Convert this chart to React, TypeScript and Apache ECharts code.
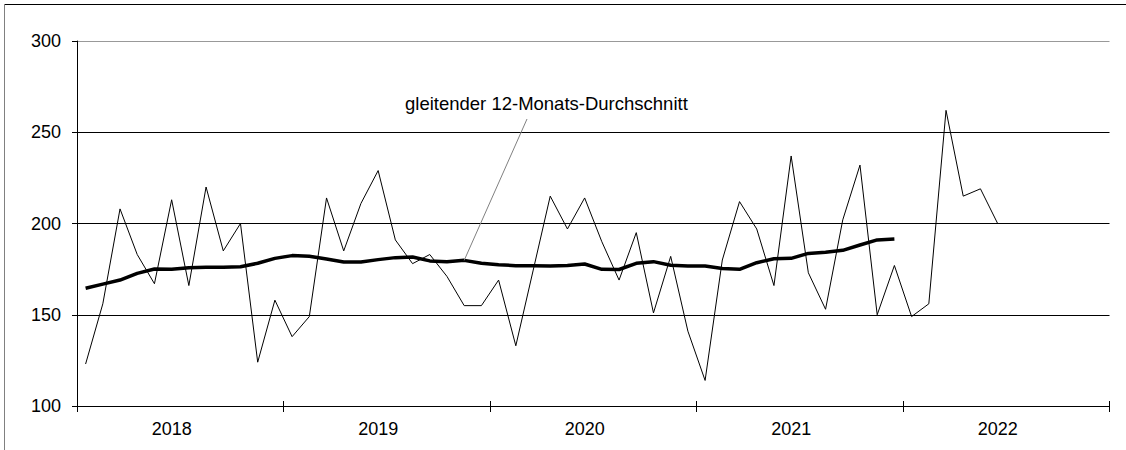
import React, { useEffect, useRef } from "react";
import * as echarts from "echarts";

const years = ["2018", "2019", "2020", "2021", "2022"];
const months = ["01", "02", "03", "04", "05", "06", "07", "08", "09", "10", "11", "12"];

// monthly values (Jan 2018 - Jun 2022)
const monthlyValues = [
  123, 156, 208, 183, 167, 213, 166, 220, 185, 200, 124, 158,
  138, 149, 214, 185, 211, 229, 191, 178, 183, 171, 155, 155,
  169, 133, 174, 215, 197, 214, 190, 169, 195, 151, 182, 141,
  114, 180, 212, 197, 166, 237, 173, 153, 202, 232, 150, 177,
  149, 156, 262, 215, 219, 200,
];

// moving 12-month average (Jan 2018 - Dec 2021)
const movingAverage = [
  164.5, 166.8, 169, 172.7, 175.1, 174.9, 175.8, 176, 176, 176.3, 178.2, 180.9,
  182.4, 182, 180.5, 178.9, 178.9, 180.2, 181.3, 181.6, 179.5, 179.1, 179.8, 178.2,
  177.4, 176.9, 176.9, 176.7, 177, 177.8, 174.9, 174.8, 178.2, 179.1, 177.1, 176.7,
  176.7, 175.4, 174.9, 178.5, 180.7, 180.9, 183.6, 184.2, 185.3, 188.2, 191, 191.5,
];

const annotationText = "gleitender 12-Monats-Durchschnitt";
const annotationIndex = 22;

const FONT = "'Liberation Sans', Arial, sans-serif";

export default function App() {
  const ref = useRef<HTMLDivElement>(null);

  useEffect(() => {
    if (!ref.current) return;
    const chart = echarts.init(ref.current, undefined, { renderer: "svg" });
    const categories: string[] = [];
    years.forEach((y) => months.forEach((m) => categories.push(`${y}-${m}`)));

    const baseX = {
      type: "category" as const,
      data: categories,
      boundaryGap: true,
      position: "bottom" as const,
    };

    chart.setOption({
      animation: false,
      backgroundColor: "#fff",
      grid: { left: 77, right: 16.5, top: 41, bottom: 44, containLabel: false },
      xAxis: [
        {
          ...baseX,
          axisLine: { show: true, lineStyle: { color: "#000", width: 1 } },
          axisTick: {
            show: true,
            length: 6,
            interval: (i: number) => i % 12 === 0,
            lineStyle: { color: "#000" },
          },
          axisLabel: {
            show: true,
            interval: (i: number) => i % 12 === 5,
            formatter: (v: string) => v.slice(0, 4),
            color: "#000",
            fontSize: 18,
            fontFamily: FONT,
            margin: 14,
          },
          splitLine: { show: false },
        },
        {
          ...baseX,
          axisLine: { show: false },
          axisTick: {
            show: true,
            inside: true,
            length: 5,
            interval: (i: number) => i % 12 === 0,
            lineStyle: { color: "#000" },
          },
          axisLabel: { show: false },
          splitLine: { show: false },
        },
      ],
      yAxis: {
        type: "value",
        min: 100,
        max: 300,
        interval: 50,
        axisLine: { show: true, lineStyle: { color: "#000", width: 1 } },
        axisTick: { show: true, length: 5, lineStyle: { color: "#000" } },
        axisLabel: {
          color: "#000",
          fontSize: 18,
          fontFamily: FONT,
          margin: 16,
        },
        splitLine: {
          show: true,
          lineStyle: { color: ["#000", "#000", "#000", "#000", "#999"], width: 1 },
        },
      },
      series: [
        {
          type: "line",
          name: "Monatswerte",
          data: monthlyValues,
          symbol: "none",
          lineStyle: { color: "#000", width: 1 },
          z: 3,
        },
        {
          type: "line",
          name: annotationText,
          data: movingAverage,
          symbol: "none",
          lineStyle: { color: "#000", width: 3.5 },
          z: 4,
          markLine: {
            silent: true,
            symbol: ["none", "none"],
            label: { show: false },
            lineStyle: { color: "#808080", width: 1, type: "solid" },
            data: [
              [
                { coord: [categories[annotationIndex], movingAverage[annotationIndex]] },
                { x: 527, y: 119 },
              ],
            ],
          },
        },
      ],
      graphic: [
        {
          type: "line",
          shape: { x1: 4, y1: 4.5, x2: 1126, y2: 4.5 },
          style: { stroke: "#000", lineWidth: 1 },
          silent: true,
        },
        {
          type: "line",
          shape: { x1: 4.5, y1: 4, x2: 4.5, y2: 450 },
          style: { stroke: "#808080", lineWidth: 1 },
          silent: true,
        },
        {
          type: "text",
          x: 405,
          y: 103,
          style: {
            text: annotationText,
            fontSize: 18.5,
            fontFamily: FONT,
            fill: "#000",
            textAlign: "left",
            textVerticalAlign: "middle",
          },
          silent: true,
        },
      ],
    });
    return () => chart.dispose();
  }, []);

  return (
    <div
      ref={ref}
      style={{ position: "fixed", left: 0, top: 0, width: 1126, height: 450 }}
    />
  );
}
